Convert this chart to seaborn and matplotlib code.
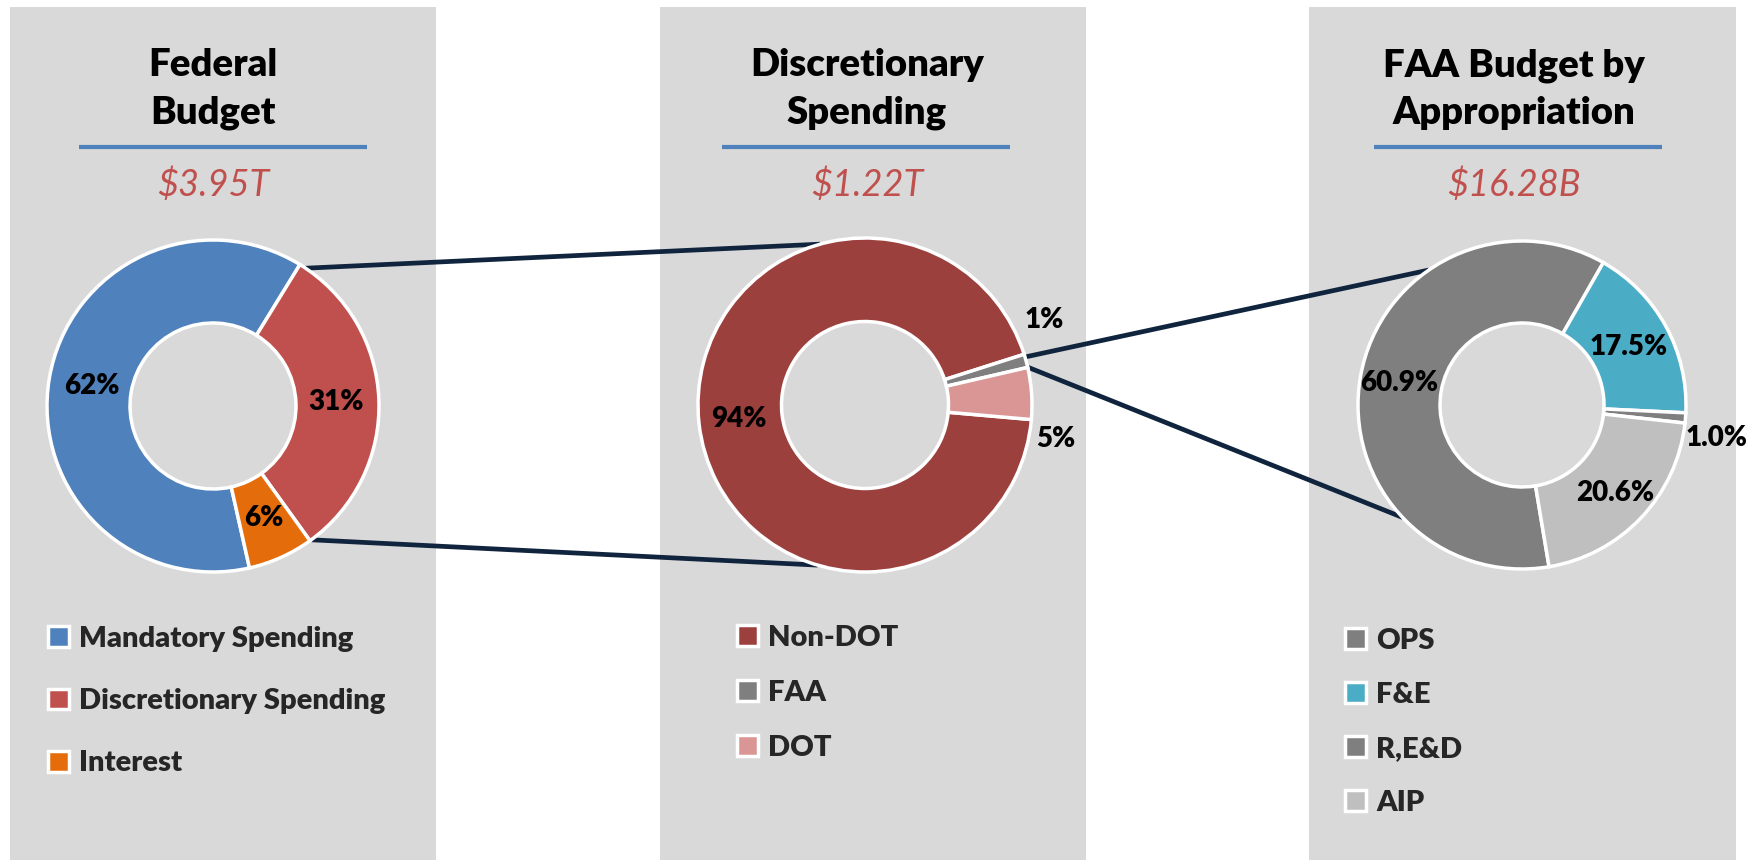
import numpy as np
import seaborn as sns
import matplotlib
matplotlib.use("Agg")
import matplotlib.pyplot as plt
from matplotlib.patches import Rectangle

# ---- data (percent shares) ----
fed_labels = ["Mandatory Spending", "Discretionary Spending", "Interest"]
fed_values = [62.3, 31.3, 6.4]
fed_colors = ["#4f81bd", "#c0504d", "#e46c0a"]

disc_labels = ["Non-DOT", "FAA", "DOT"]
disc_values = [93.7, 1.3, 5.0]
disc_colors = ["#9c403e", "#7f7f7f", "#d99694"]

faa_labels = ["OPS", "F&E", "R,E&D", "AIP"]
faa_values = [60.9, 17.5, 1.0, 20.6]
faa_colors = ["#7f7f7f", "#4bacc6", "#7f7f7f", "#bfbfbf"]

titles = ["Federal\nBudget", "Discretionary\nSpending", "FAA Budget by\nAppropriation"]
totals = ["$3.95T", "$1.22T", "$16.28B"]

sns.set_theme(style="white")
plt.rcParams['font.family'] = ['Lato', 'DejaVu Sans']
BOLD = "heavy"

W, H = 1759, 860
fig = plt.figure(figsize=(W / 100, H / 100), dpi=100)
fig.patch.set_facecolor("white")

# background axes in pixel coordinates
bg = fig.add_axes([0, 0, 1, 1], zorder=0)
bg.set_xlim(0, W)
bg.set_ylim(H, 0)
bg.axis("off")

panels_x = [(10, 436), (660, 1086), (1309, 1736)]
for x0, x1 in panels_x:
    bg.add_patch(Rectangle((x0, 7), x1 - x0, H - 7, facecolor="#d9d9d9", edgecolor="none"))

text_cx = [213, 867, 1514]
line_cx = [223, 866, 1518]
for t, tot, cx, lx in zip(titles, totals, text_cx, line_cx):
    bg.text(cx, 89, t, ha="center", va="center", fontsize=27.5, weight=BOLD,
            color="black", linespacing=1.45)
    bg.plot([lx - 144, lx + 144], [147, 147], color="#4f81bd", lw=3, solid_capstyle="butt")
    bg.text(cx, 185, tot, ha="center", va="center", fontsize=26, style="italic",
            color="#c0504d")

# ---- donuts ----
centers = [(213, 406), (865, 405), (1522, 405)]
radii = [166, 167, 164]
series = [
    (fed_values, fed_colors, fed_labels, -77.3, "{:.0f}%", [0.74, 0.74, 0.74], [0, 0, 0]),
    (disc_values, disc_colors, disc_labels, -5.0, "{:.0f}%", [0.76, 1.19, 1.16], [0, 10, -14]),
    (faa_values, faa_colors, faa_labels, -80.5, "{:.1f}%", [0.76, 0.74, 1.2, 0.78], [0, 0, -5, 0]),
]
legend_pos = [(48, 626, 1.24), (737, 625, 0.99), (1345, 628, 0.96)]

pie_axes = []
for (cx, cy), r, (vals, cols, labs, start, fmt, lrad, lnudge), (lx, ly, lsp) in zip(
        centers, radii, series, legend_pos):
    half = 1.3 * r
    ax = fig.add_axes([(cx - half) / W, (H - cy - half) / H, 2 * half / W, 2 * half / H], zorder=2)
    ax.set_facecolor("none")
    wedges, _ = ax.pie(vals, colors=cols, startangle=start, counterclock=False, radius=1,
                       wedgeprops=dict(width=0.5, edgecolor="white", linewidth=2.5))
    ax.set_xlim(-1.3, 1.3)
    ax.set_ylim(-1.3, 1.3)
    ax.set_aspect("equal")
    ax.axis("off")
    total = sum(vals)
    for w, v, rr, nd in zip(wedges, vals, lrad, lnudge):
        ang = np.deg2rad((w.theta1 + w.theta2) / 2 + nd)
        ax.text(rr * np.cos(ang), rr * np.sin(ang), fmt.format(100 * v / total),
                ha="center", va="center", fontsize=20, weight=BOLD, color="black")
    ax.legend(wedges, labs, loc="upper left", bbox_to_anchor=(lx / W, 1 - ly / H),
              bbox_transform=fig.transFigure, frameon=False,
              prop=dict(size=21, weight=BOLD), handlelength=0.72, handleheight=0.72,
              handletextpad=0.35, labelspacing=lsp, borderpad=0, borderaxespad=0)
    pie_axes.append(ax)


def edge_point(ax, angle_cw):
    a = np.deg2rad(angle_cw)
    px, py = ax.transData.transform((np.sin(a), np.cos(a)))
    return px, H - py


# connector lines: wedge of one donut -> outer edge of the next
connectors = [(0, 33.9, 1, -15.6), (0, 143.7, 1, 196.5),
              (1, 73.3, 2, -34.6), (1, 76.9, 2, 226.7)]
for i, a1, j, a2 in connectors:
    x1, y1 = edge_point(pie_axes[i], a1)
    x2, y2 = edge_point(pie_axes[j], a2)
    bg.plot([x1, x2], [y1, y2], color="#10243e", lw=3.4, solid_capstyle="butt", zorder=3)

fig.savefig("out.png", dpi=100)
